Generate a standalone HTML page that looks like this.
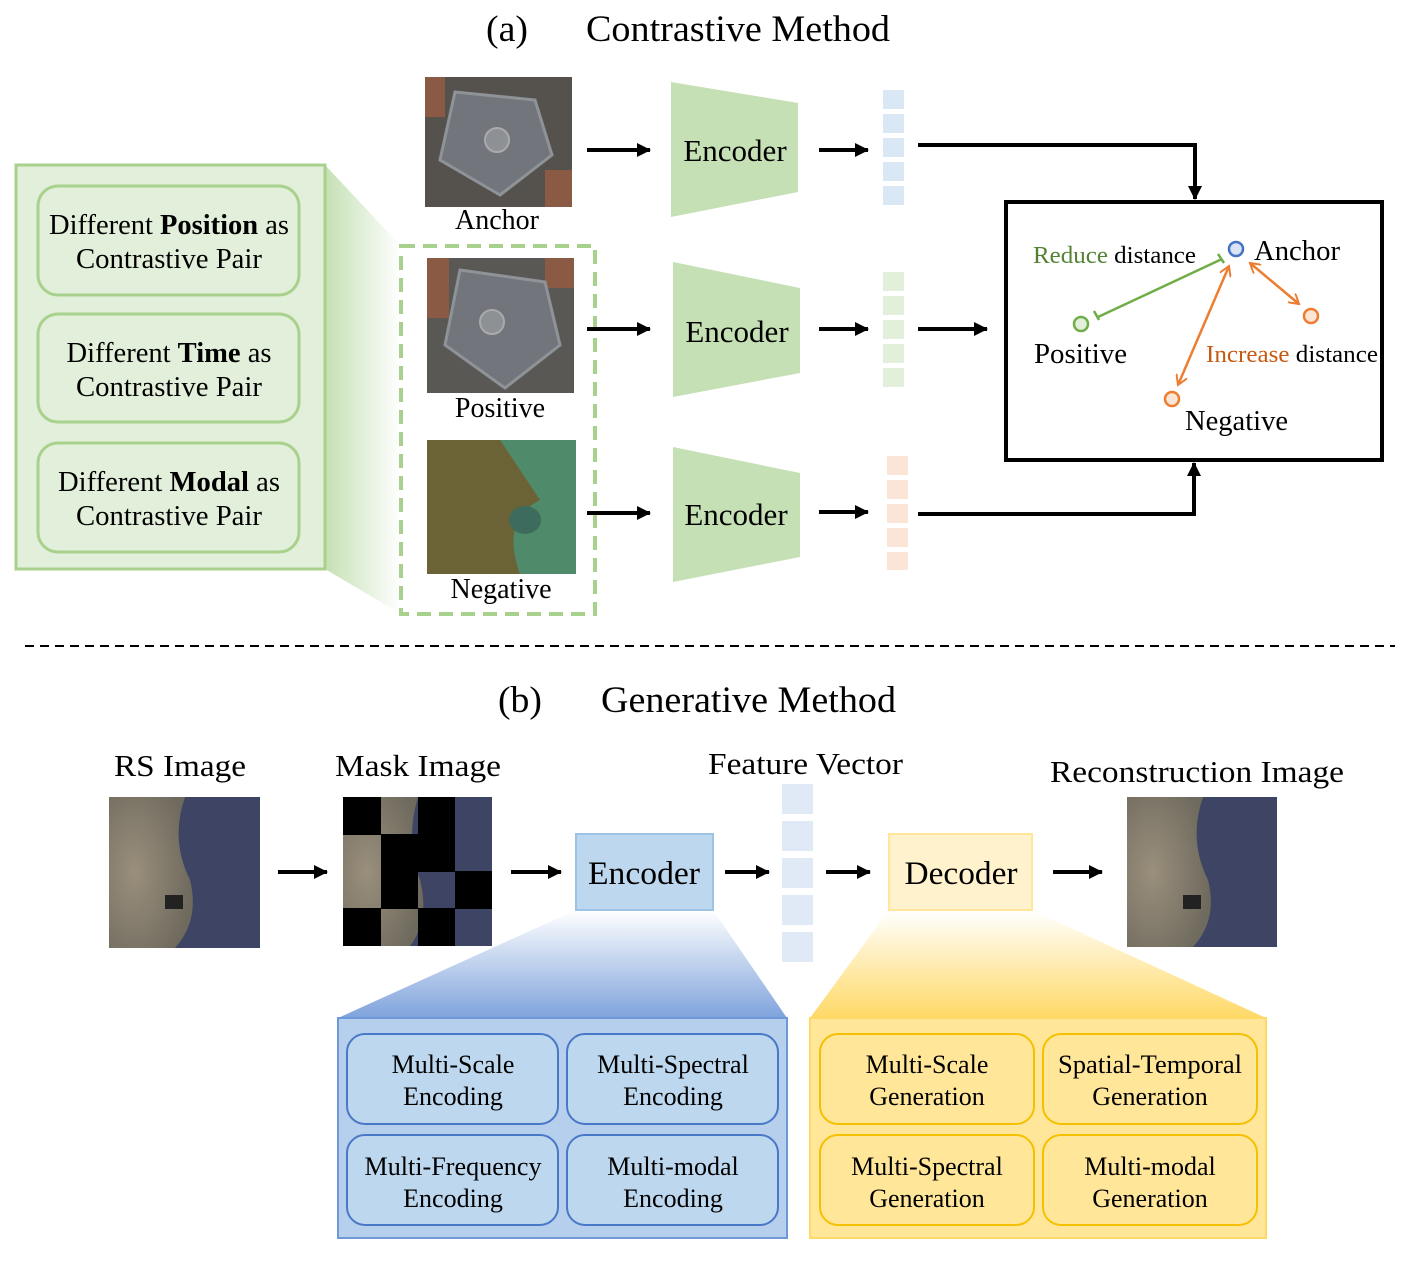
<!DOCTYPE html>
<html><head><meta charset="utf-8"><style>
html,body{margin:0;padding:0;background:#fff}
svg{display:block;font-family:"Liberation Serif",serif}
</style></head><body>
<svg width="1412" height="1266" viewBox="0 0 1412 1266" xmlns="http://www.w3.org/2000/svg">
<defs>
<marker id="ah2" markerWidth="14" markerHeight="14" refX="13" refY="7" orient="auto" markerUnits="userSpaceOnUse"><path d="M0,0 L14,7 L0,14 z" fill="#000"/></marker>
<marker id="oa" markerWidth="12" markerHeight="12" refX="10" refY="6" orient="auto-start-reverse" markerUnits="userSpaceOnUse"><path d="M0,0 L10,6 L0,12" fill="none" stroke="#ed7d31" stroke-width="2"/></marker>
<linearGradient id="gg" x1="0" x2="1" y1="0" y2="0"><stop offset="0" stop-color="#c5e0b4"/><stop offset="1" stop-color="#fff"/></linearGradient>
<linearGradient id="bg" x1="0" x2="0" y1="0" y2="1"><stop offset="0" stop-color="#fff"/><stop offset="1" stop-color="#7fa3dc"/></linearGradient>
<linearGradient id="yg" x1="0" x2="0" y1="0" y2="1"><stop offset="0" stop-color="#fff"/><stop offset="1" stop-color="#ffd966"/></linearGradient>
<radialGradient id="land" cx="0.3" cy="0.5" r="0.7"><stop offset="0" stop-color="#9a8f7c"/><stop offset="1" stop-color="#6f6a5e"/></radialGradient>
</defs>

<text x="486" y="41" font-size="37" textLength="42" lengthAdjust="spacingAndGlyphs">(a)</text>
<text x="586" y="41" font-size="37" textLength="304" lengthAdjust="spacingAndGlyphs">Contrastive Method</text>

<polygon points="325,165 401,246 401,614 325,569" fill="url(#gg)"/>
<rect x="16" y="165" width="309" height="404" fill="#e2efda" stroke="#a9d18e" stroke-width="3"/>
<g fill="#e2efda" stroke="#a9d18e" stroke-width="3">
<rect x="38" y="186" width="261" height="109" rx="20"/>
<rect x="38" y="314" width="261" height="108" rx="20"/>
<rect x="38" y="443" width="261" height="109" rx="20"/>
</g>
<g font-size="28" text-anchor="middle">
<text x="169" y="234" textLength="240" lengthAdjust="spacingAndGlyphs">Different <tspan font-weight="bold">Position</tspan> as</text>
<text x="169" y="268" textLength="186" lengthAdjust="spacingAndGlyphs">Contrastive Pair</text>
<text x="169" y="362" textLength="205" lengthAdjust="spacingAndGlyphs">Different <tspan font-weight="bold">Time</tspan> as</text>
<text x="169" y="396" textLength="186" lengthAdjust="spacingAndGlyphs">Contrastive Pair</text>
<text x="169" y="491" textLength="222" lengthAdjust="spacingAndGlyphs">Different <tspan font-weight="bold">Modal</tspan> as</text>
<text x="169" y="525" textLength="186" lengthAdjust="spacingAndGlyphs">Contrastive Pair</text>
</g>
<rect x="401" y="246" width="194" height="368" fill="#fff" stroke="#a9d18e" stroke-width="4" stroke-dasharray="14,8"/>

<rect x="425" y="77" width="147" height="130" fill="#55524e"/>
<rect x="425" y="77" width="20" height="40" fill="#8a5a45"/><rect x="545" y="170" width="27" height="37" fill="#8a5a45"/>
<polygon points="455,92 535,100 552,155 500,195 440,160" fill="#72767c" stroke="#8e9398" stroke-width="3"/>
<circle cx="497" cy="140" r="12" fill="#8d9095" stroke="#aaa" stroke-width="2"/>
<rect x="427" y="258" width="147" height="135" fill="#5a5855"/>
<rect x="427" y="258" width="22" height="60" fill="#8a5a45"/><rect x="545" y="258" width="29" height="30" fill="#8a5a45"/>
<polygon points="460,270 545,282 560,345 505,388 445,345" fill="#72767c" stroke="#8e9398" stroke-width="3"/>
<circle cx="492" cy="322" r="12" fill="#8d9095" stroke="#aaa" stroke-width="2"/>
<rect x="427" y="440" width="149" height="134" fill="#6b6236"/>
<path d="M500,440 L576,440 L576,574 L520,574 Q500,520 540,500 Q520,470 500,440z" fill="#4f8a6a"/>
<ellipse cx="525" cy="520" rx="16" ry="14" fill="#3d6b5e"/>
<g font-size="28" text-anchor="middle">
<text x="497" y="229">Anchor</text>
<text x="500" y="417">Positive</text>
<text x="501" y="598">Negative</text>
</g>

<g stroke="#000" stroke-width="4" marker-end="url(#ah2)">
<line x1="587" y1="150" x2="650" y2="150"/>
<line x1="587" y1="329" x2="650" y2="329"/>
<line x1="587" y1="513" x2="650" y2="513"/>
<line x1="819" y1="150" x2="868" y2="150"/>
<line x1="819" y1="329" x2="868" y2="329"/>
<line x1="819" y1="512" x2="868" y2="512"/>
<line x1="918" y1="329" x2="987" y2="329"/>
</g>
<g fill="#c5e0b4">
<polygon points="671,82 798,103 798,192 671,217"/>
<polygon points="673,262 800,288 800,373 673,397"/>
<polygon points="673,447 800,473 800,557 673,582"/>
</g>
<g font-size="31" text-anchor="middle">
<text x="735" y="161">Encoder</text>
<text x="737" y="342">Encoder</text>
<text x="736" y="525">Encoder</text>
</g>
<g fill="#dae8f6"><rect x="883" y="90" width="21" height="19"/><rect x="883" y="114" width="21" height="19"/><rect x="883" y="138" width="21" height="19"/><rect x="883" y="162" width="21" height="19"/><rect x="883" y="186" width="21" height="19"/></g>
<g fill="#e2efda"><rect x="883" y="272" width="21" height="19"/><rect x="883" y="296" width="21" height="19"/><rect x="883" y="320" width="21" height="19"/><rect x="883" y="344" width="21" height="19"/><rect x="883" y="368" width="21" height="19"/></g>
<g fill="#fbe5d6"><rect x="887" y="456" width="21" height="19"/><rect x="887" y="480" width="21" height="19"/><rect x="887" y="504" width="21" height="19"/><rect x="887" y="528" width="21" height="19"/><rect x="887" y="552" width="21" height="18"/></g>
<g stroke="#000" stroke-width="4" fill="none" marker-end="url(#ah2)">
<polyline points="918,145 1195,145 1195,199"/>
<polyline points="918,514 1194,514 1194,463"/>
</g>
<rect x="1006" y="202" width="376" height="258" fill="#fff" stroke="#000" stroke-width="4"/>
<line x1="1098" y1="317" x2="1222" y2="259" stroke="#70ad47" stroke-width="2.5"/>
<path d="M1094,311 L1099,320 M1218,254 L1224,263" stroke="#70ad47" stroke-width="2.5"/>
<line x1="1229" y1="266" x2="1178" y2="385" stroke="#ed7d31" stroke-width="2.5" marker-start="url(#oa)" marker-end="url(#oa)"/>
<line x1="1250" y1="263" x2="1299" y2="304" stroke="#ed7d31" stroke-width="2.5" marker-start="url(#oa)" marker-end="url(#oa)"/>
<circle cx="1236" cy="249" r="7" fill="#dae3f3" stroke="#4472c4" stroke-width="2.5"/>
<circle cx="1081" cy="324" r="7" fill="#e2efda" stroke="#70ad47" stroke-width="2.5"/>
<circle cx="1311" cy="316" r="7" fill="#fbe5d6" stroke="#ed7d31" stroke-width="2.5"/>
<circle cx="1172" cy="399" r="7" fill="#fbe5d6" stroke="#ed7d31" stroke-width="2.5"/>
<text x="1254" y="260" font-size="28" textLength="86" lengthAdjust="spacingAndGlyphs">Anchor</text>
<text x="1034" y="363" font-size="28" textLength="93" lengthAdjust="spacingAndGlyphs">Positive</text>
<text x="1185" y="430" font-size="28" textLength="103" lengthAdjust="spacingAndGlyphs">Negative</text>
<text x="1033" y="263" font-size="24" textLength="163" lengthAdjust="spacingAndGlyphs"><tspan fill="#548235">Reduce</tspan> distance</text>
<text x="1206" y="362" font-size="24" textLength="172" lengthAdjust="spacingAndGlyphs"><tspan fill="#c55a11">Increase</tspan> distance</text>

<line x1="25" y1="646" x2="1395" y2="646" stroke="#000" stroke-width="2" stroke-dasharray="9,6"/>

<text x="498" y="712" font-size="37" textLength="44" lengthAdjust="spacingAndGlyphs">(b)</text>
<text x="601" y="712" font-size="37" textLength="295" lengthAdjust="spacingAndGlyphs">Generative Method</text>
<g font-size="31">
<text x="114" y="776" textLength="132" lengthAdjust="spacingAndGlyphs">RS Image</text>
<text x="335" y="776" textLength="166" lengthAdjust="spacingAndGlyphs">Mask Image</text>
<text x="708" y="774" textLength="195" lengthAdjust="spacingAndGlyphs">Feature Vector</text>
<text x="1050" y="782" textLength="294" lengthAdjust="spacingAndGlyphs">Reconstruction Image</text>
</g>
<g>
<rect x="109" y="797" width="151" height="151" fill="#3e4564"/>
<path d="M109,797 L185,797 Q170,840 190,880 Q200,920 175,948 L109,948z" fill="url(#land)"/>
<rect x="165" y="895" width="18" height="14" fill="#222"/>
</g>
<g>
<rect x="1127" y="797" width="150" height="150" fill="#3e4564"/>
<path d="M1127,797 L1203,797 Q1188,840 1208,880 Q1218,920 1193,947 L1127,947z" fill="url(#land)"/>
<rect x="1183" y="895" width="18" height="14" fill="#222"/>
</g>
<g>
<rect x="343" y="797" width="149" height="149" fill="#3e4564"/>
<path d="M343,797 L418,797 Q405,840 420,880 Q430,920 410,946 L343,946z" fill="url(#land)"/>
<g fill="#000">
<rect x="343" y="797" width="38" height="38"/><rect x="418" y="797" width="37" height="38"/>
<rect x="381" y="834" width="74" height="38"/>
<rect x="381" y="871" width="37" height="38"/><rect x="455" y="871" width="37" height="38"/>
<rect x="343" y="908" width="38" height="38"/><rect x="418" y="908" width="37" height="38"/>
</g>
</g>
<g stroke="#000" stroke-width="4" marker-end="url(#ah2)">
<line x1="278" y1="872" x2="327" y2="872"/>
<line x1="511" y1="872" x2="561" y2="872"/>
<line x1="725" y1="872" x2="769" y2="872"/>
<line x1="826" y1="872" x2="870" y2="872"/>
<line x1="1053" y1="872" x2="1102" y2="872"/>
</g>
<polygon points="576,910 713,910 787,1018 338,1018" fill="url(#bg)"/>
<polygon points="889,910 1032,910 1266,1018 810,1018" fill="url(#yg)"/>
<rect x="576" y="834" width="137" height="76" fill="#bdd7ee" stroke="#9dc3e6" stroke-width="2"/>
<rect x="889" y="834" width="143" height="76" fill="#fff2cc" stroke="#ffe699" stroke-width="2"/>
<text x="644" y="884" font-size="33" text-anchor="middle" textLength="112" lengthAdjust="spacingAndGlyphs">Encoder</text>
<text x="961" y="884" font-size="33" text-anchor="middle" textLength="113" lengthAdjust="spacingAndGlyphs">Decoder</text>
<g fill="#dfeaf6">
<rect x="782" y="784" width="31" height="30"/><rect x="782" y="821" width="31" height="30"/><rect x="782" y="858" width="31" height="30"/><rect x="782" y="895" width="31" height="30"/><rect x="782" y="932" width="31" height="30"/>
</g>
<rect x="338" y="1018" width="449" height="220" fill="#b6cfec" stroke="#6f98d8" stroke-width="2"/>
<g fill="#bdd7ee" stroke="#4a78c8" stroke-width="2">
<rect x="347" y="1034" width="211" height="90" rx="18"/><rect x="567" y="1034" width="211" height="90" rx="18"/>
<rect x="347" y="1135" width="211" height="90" rx="18"/><rect x="567" y="1135" width="211" height="90" rx="18"/>
</g>
<rect x="810" y="1018" width="456" height="220" fill="#ffe699" stroke="#ffd966" stroke-width="2"/>
<g fill="#ffe699" stroke="#f5c000" stroke-width="2">
<rect x="820" y="1034" width="214" height="90" rx="18"/><rect x="1043" y="1034" width="214" height="90" rx="18"/>
<rect x="820" y="1135" width="214" height="90" rx="18"/><rect x="1043" y="1135" width="214" height="90" rx="18"/>
</g>
<g font-size="26" text-anchor="middle">
<text x="453" y="1073">Multi-Scale</text><text x="453" y="1105">Encoding</text>
<text x="673" y="1073">Multi-Spectral</text><text x="673" y="1105">Encoding</text>
<text x="453" y="1175" textLength="177" lengthAdjust="spacingAndGlyphs">Multi-Frequency</text><text x="453" y="1207">Encoding</text>
<text x="673" y="1175">Multi-modal</text><text x="673" y="1207">Encoding</text>
<text x="927" y="1073">Multi-Scale</text><text x="927" y="1105">Generation</text>
<text x="1150" y="1073" textLength="184" lengthAdjust="spacingAndGlyphs">Spatial-Temporal</text><text x="1150" y="1105">Generation</text>
<text x="927" y="1175">Multi-Spectral</text><text x="927" y="1207">Generation</text>
<text x="1150" y="1175">Multi-modal</text><text x="1150" y="1207">Generation</text>
</g>
</svg>
</body></html>
